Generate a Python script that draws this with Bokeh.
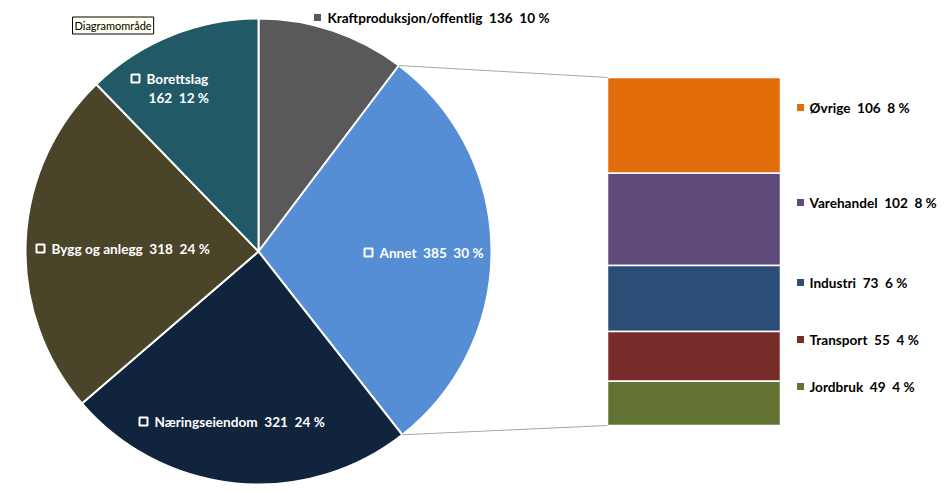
import math
from bokeh.plotting import figure
from bokeh.models import Range1d, Label
from bokeh.core.properties import value
from bokeh.embed import file_html
from bokeh.resources import INLINE

# ---- data ----
pie_labels = ["Kraftproduksjon/offentlig", "Annet", "Næringseiendom", "Bygg og anlegg", "Borettslag"]
pie_values = [136, 385, 321, 318, 162]
pie_pcts = ["10 %", "30 %", "24 %", "24 %", "12 %"]
pie_colors = ["#595959", "#558ED5", "#10243E", "#4A4429", "#215967"]

bar_labels = ["Øvrige", "Varehandel", "Industri", "Transport", "Jordbruk"]
bar_values = [106, 102, 73, 55, 49]
bar_pcts = ["8 %", "8 %", "6 %", "4 %", "4 %"]
bar_colors = ["#E36C0A", "#604A7B", "#2C4D76", "#772C2A", "#627332"]

FONT = "Lato"
FS = "13.6px"
W, HT = 940, 485
H = 493  # reference pixel -> data y = H - ref_y

p = figure(width=W, height=HT, x_range=Range1d(0, W), y_range=Range1d(H - HT, H),
           min_border=0, toolbar_location=None, output_backend="svg")
p.axis.visible = False
p.grid.visible = False
p.outline_line_color = None
p.background_fill_color = "white"
p.border_fill_color = "white"

# ---- pie ----
cx, cy, r = 258, H - 251, 233
total = sum(pie_values)
starts, ends = [], []
cum = 0
for v in pie_values:
    starts.append(math.pi / 2 - 2 * math.pi * cum / total)
    cum += v
    ends.append(math.pi / 2 - 2 * math.pi * cum / total)
p.wedge(x=[cx] * len(pie_values), y=[cy] * len(pie_values), radius=r,
        start_angle=starts, end_angle=ends, direction="clock",
        fill_color=pie_colors, line_color="white", line_width=2)

# ---- bar (stacked, top to bottom in list order) ----
bar_total = sum(bar_values)
bar_px_top, bar_px_bot = H - 77, H - 425
upp = bar_total / (bar_px_top - bar_px_bot)
p.extra_y_ranges = {"bar": Range1d(0 - (bar_px_bot - (H - HT)) * upp,
                                   bar_total + (H - bar_px_top) * upp)}
tops, bots = [], []
acc = bar_total
for v in bar_values:
    tops.append(acc)
    acc -= v
    bots.append(acc)
p.vbar(x=[693.5] * len(bar_values), width=173, top=tops, bottom=bots,
       fill_color=bar_colors, line_color="white", line_width=1.5, y_range_name="bar")

# ---- connector lines ----
i_annet = 1
a0, a1 = starts[i_annet], ends[i_annet]
p0 = (cx + r * math.cos(a0), cy + r * math.sin(a0))
p1 = (cx + r * math.cos(a1), cy + r * math.sin(a1))
p.segment(x0=[p0[0], p1[0]], y0=[p0[1], p1[1]], x1=[607, 607],
          y1=[bar_px_top, bar_px_bot], line_color="#A6A6A6", line_width=1)

# ---- labels ----
def lab(x, y, text, color, size=FS, style="bold"):
    p.text(x=[x], y=[H - y], text=[text], text_font=value(FONT), text_font_size=size,
           text_font_style=style, text_color=color, text_baseline="middle", text_align="left")

def hollow(x, y):
    p.scatter(x=[x], y=[H - y], marker="square", size=8, fill_color=None,
              line_color="white", line_width=2)

def filled(x, y, c):
    p.scatter(x=[x], y=[H - y], marker="square", size=7, fill_color=c, line_color=None)

sp = "\u00a0\u00a0"
# Kraft (outside)
filled(317, 17, pie_colors[0])
lab(327, 17, pie_labels[0] + sp + str(pie_values[0]) + sp + pie_pcts[0], "black")
# Annet
hollow(368, 252)
lab(379, 252, pie_labels[1] + sp + str(pie_values[1]) + sp + pie_pcts[1], "white")
# Næringseiendom
hollow(143, 421)
lab(154, 421, pie_labels[2] + sp + str(pie_values[2]) + sp + pie_pcts[2], "white")
# Bygg og anlegg
hollow(40, 248)
lab(51, 248, pie_labels[3] + sp + str(pie_values[3]) + sp + pie_pcts[3], "white")
# Borettslag
hollow(135, 78)
lab(146, 78, pie_labels[4], "white")
lab(148, 97, str(pie_values[4]) + sp + pie_pcts[4], "white")

# ---- bar labels ----
bar_label_y = [107, 202, 282, 339, 386]
for name, v, pc, c, yy in zip(bar_labels, bar_values, bar_pcts, bar_colors, bar_label_y):
    filled(800, yy, c)
    lab(809, yy, name + sp + str(v) + sp + pc, "black")

# ---- tooltip ----
tip = Label(x=72, y=H - 25, text="Diagramområde", text_font=FONT, text_font_size="11px",
            text_color="black", text_baseline="middle", text_align="left",
            background_fill_color="#FFFFF0", border_line_color="black", border_line_width=1,
            padding=2)
p.add_layout(tip)

open("out.html", "w").write(file_html(p, INLINE))
